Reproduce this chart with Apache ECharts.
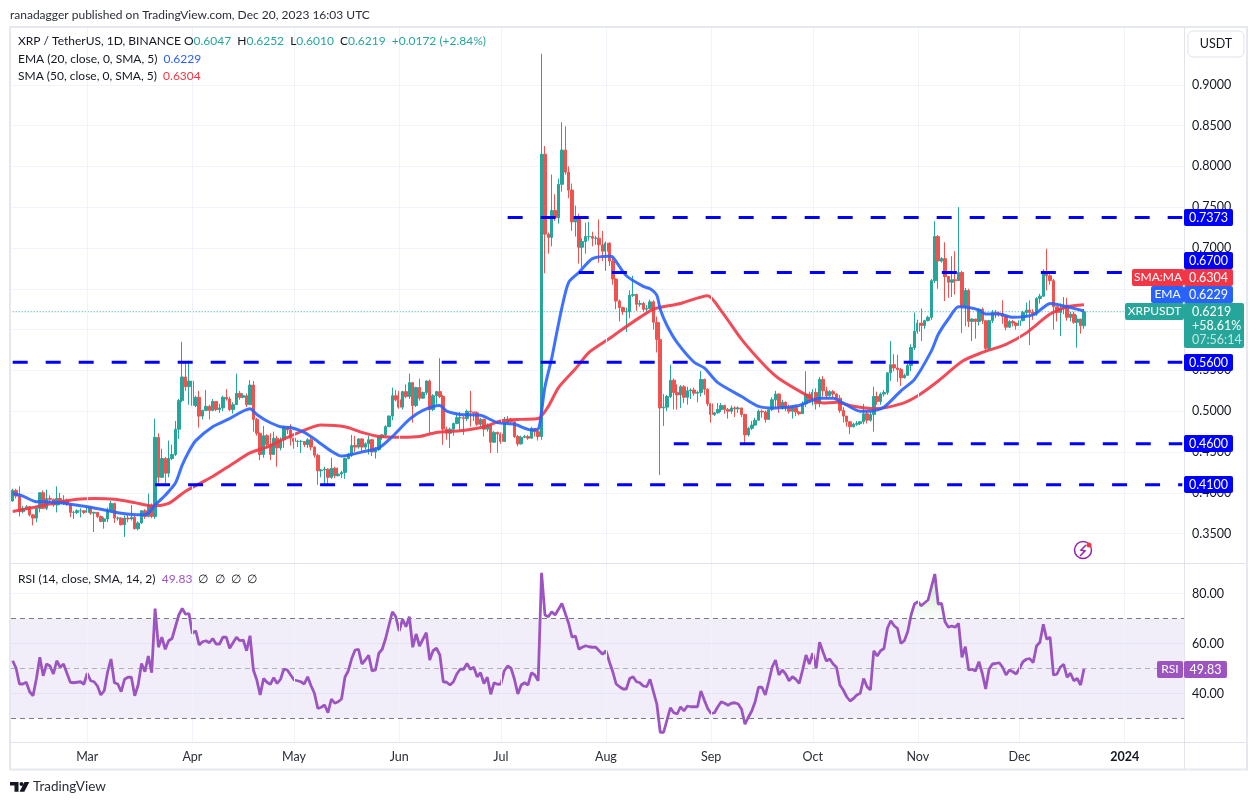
<!DOCTYPE html>
<html><head><meta charset="utf-8"><style>html,body{margin:0;padding:0;background:#fff}#c{width:1258px;height:805px}</style>
<script src="https://cdn.jsdelivr.net/npm/echarts@6/dist/echarts.min.js"></script></head>
<body><div id="c"></div><script>
const startDate='2023-02-07', dayCount=346, firstOpen=0.390;
const closes=[.403,.396,.377,.381,.383,.373,.369,.381,.400,.381,
.393,.392,.385,.393,.387,.391,.386,.376,.376,.378,
.378,.376,.382,.375,.376,.371,.365,.368,.379,.387,
.369,.369,.361,.369,.368,.370,.356,.363,.378,.371,
.385,.371,.468,.419,.442,.424,.442,.447,.478,.513,
.542,.530,.537,.507,.517,.494,.501,.506,.501,.512,
.502,.504,.517,.515,.502,.508,.522,.517,.519,.508,
.532,.490,.473,.447,.470,.459,.447,.467,.455,.465,
.480,.477,.467,.463,.463,.463,.459,.465,.456,.446,
.427,.428,.429,.419,.430,.421,.423,.425,.442,.447,
.458,.456,.466,.456,.460,.465,.450,.453,.468,.471,
.481,.494,.519,.514,.505,.524,.518,.535,.507,.529,
.516,.523,.537,.502,.519,.524,.518,.478,.473,.478,
.485,.492,.492,.491,.500,.499,.498,.484,.490,.478,
.483,.462,.474,.472,.463,.486,.490,.487,.469,.460,
.468,.469,.467,.479,.475,.469,.815,.717,.713,.746,
.737,.778,.820,.793,.771,.732,.738,.701,.708,.714,
.714,.712,.712,.704,.696,.706,.684,.662,.635,.627,
.622,.622,.642,.643,.631,.632,.625,.626,.634,.609,
.588,.504,.505,.518,.538,.523,.520,.530,.517,.525,
.526,.522,.523,.539,.527,.509,.496,.498,.502,.507,
.502,.500,.504,.503,.504,.496,.471,.479,.483,.489,
.500,.499,.490,.502,.514,.521,.505,.511,.505,.500,
.505,.499,.497,.509,.521,.513,.523,.509,.539,.525,
.519,.524,.521,.516,.501,.494,.487,.481,.484,.485,
.487,.497,.489,.496,.518,.512,.521,.523,.547,.557,
.553,.551,.541,.544,.556,.578,.598,.608,.605,.611,
.615,.660,.714,.684,.687,.665,.658,.661,.660,.670,
.628,.648,.610,.613,.610,.625,.611,.577,.611,.621,
.620,.619,.616,.603,.610,.608,.605,.611,.621,.624,
.621,.619,.638,.641,.671,.666,.660,.628,.621,.626,
.630,.615,.619,.609,.613,.6047,.6219];
const highs=[.405,.405,.408,.384,.385,.384,.374,.384,.401,.403,
.404,.397,.393,.408,.400,.397,.393,.387,.378,.380,
.381,.379,.384,.383,.377,.375,.372,.370,.382,.390,
.388,.371,.370,.372,.373,.385,.372,.365,.379,.380,
.399,.387,.491,.473,.454,.444,.464,.459,.488,.515,
.585,.561,.562,.538,.519,.525,.502,.526,.508,.515,
.508,.509,.519,.527,.518,.511,.546,.525,.522,.522,
.538,.537,.492,.474,.482,.472,.473,.475,.470,.468,
.482,.480,.484,.467,.465,.465,.461,.467,.468,.457,
.448,.429,.432,.430,.443,.432,.431,.427,.443,.449,
.471,.470,.467,.467,.462,.470,.466,.456,.470,.472,
.483,.495,.529,.526,.525,.525,.533,.546,.536,.530,
.540,.524,.538,.539,.521,.525,.565,.520,.481,.480,
.486,.498,.499,.494,.502,.525,.499,.500,.492,.491,
.485,.484,.476,.475,.474,.493,.494,.492,.488,.471,
.470,.471,.471,.481,.478,.476,.938,.825,.719,.790,
.766,.785,.854,.849,.800,.779,.752,.742,.712,.731,
.732,.720,.715,.735,.721,.708,.707,.688,.663,.637,
.628,.627,.648,.666,.644,.636,.634,.630,.637,.636,
.616,.609,.521,.520,.557,.540,.533,.532,.532,.530,
.528,.529,.525,.549,.540,.528,.510,.499,.510,.510,
.508,.504,.507,.506,.506,.504,.497,.481,.488,.492,
.502,.502,.501,.503,.517,.525,.522,.514,.512,.508,
.507,.508,.500,.512,.549,.524,.527,.528,.542,.543,
.530,.526,.526,.522,.520,.505,.493,.488,.486,.488,
.488,.509,.500,.499,.530,.524,.523,.526,.548,.586,
.570,.569,.553,.546,.559,.582,.621,.612,.626,.612,
.617,.662,.733,.716,.689,.707,.664,.690,.696,.750,
.672,.651,.650,.614,.613,.626,.627,.612,.612,.624,
.624,.622,.636,.618,.612,.612,.609,.612,.623,.633,
.636,.625,.640,.644,.674,.699,.668,.662,.628,.632,
.640,.639,.622,.622,.618,.610,.6252];
const lows=[.389,.393,.371,.375,.379,.371,.360,.364,.376,.380,
.379,.387,.383,.376,.385,.385,.384,.370,.368,.374,
.370,.374,.373,.373,.352,.369,.364,.356,.364,.377,
.363,.366,.360,.346,.364,.366,.355,.354,.362,.368,
.370,.369,.368,.412,.418,.412,.419,.440,.445,.466,
.511,.525,.508,.497,.505,.480,.490,.504,.490,.500,
.500,.498,.500,.513,.500,.497,.520,.514,.516,.505,
.520,.475,.470,.440,.443,.455,.440,.458,.432,.452,
.455,.472,.458,.454,.456,.449,.456,.455,.452,.443,
.410,.419,.410,.410,.417,.418,.420,.418,.417,.441,
.444,.450,.454,.449,.453,.447,.445,.442,.451,.465,
.469,.486,.489,.512,.503,.502,.516,.515,.486,.505,
.513,.515,.520,.473,.500,.508,.516,.459,.465,.455,
.470,.484,.476,.471,.488,.481,.488,.482,.481,.469,
.475,.449,.461,.449,.460,.469,.484,.485,.467,.457,
.459,.467,.465,.466,.469,.464,.465,.669,.693,.702,
.733,.730,.769,.790,.761,.721,.714,.681,.676,.693,
.709,.702,.704,.682,.684,.672,.678,.655,.625,.610,
.618,.597,.614,.640,.623,.628,.622,.622,.630,.600,
.572,.422,.482,.500,.516,.502,.502,.504,.510,.508,
.515,.519,.511,.518,.520,.506,.486,.494,.497,.499,
.497,.491,.497,.493,.498,.493,.459,.469,.477,.482,
.495,.492,.486,.497,.500,.504,.498,.502,.500,.497,
.491,.494,.495,.503,.505,.510,.507,.502,.505,.518,
.515,.518,.517,.515,.498,.486,.481,.472,.480,.482,
.483,.484,.485,.487,.475,.508,.508,.518,.520,.537,
.549,.536,.531,.540,.548,.549,.575,.595,.586,.601,
.610,.612,.657,.650,.682,.635,.639,.640,.643,.665,
.596,.604,.603,.586,.589,.605,.607,.573,.575,.608,
.614,.616,.607,.599,.602,.604,.600,.603,.610,.616,
.581,.612,.617,.632,.640,.648,.655,.600,.610,.592,
.619,.611,.610,.607,.578,.595,.6010];
const ema20=[[0,.3995],[3,.396],[7,.389],[9,.389],[13,.388],[17,.386],[22,.383],[27,.379],[32,.375],[38,.373],[40,.375],[42,.385],[45,.397],[48,.412],[50,.434],[52,.451],[54,.464],[59,.481],[64,.491],[70,.503],[72,.496],[75,.488],[79,.481],[82,.480],[86,.474],[90,.463],[94,.451],[97,.445],[100,.447],[104,.451],[108,.455],[112,.469],[117,.490],[121,.501],[126,.507],[128,.500],[132,.496],[138,.495],[143,.486],[148,.484],[153,.477],[155,.478],[156,.500],[157,.530],[159,.565],[160,.586],[162,.627],[164,.658],[167,.670],[171,.687],[176,.690],[177,.689],[181,.666],[186,.653],[188,.650],[190,.642],[191,.625],[193,.605],[196,.584],[201,.560],[204,.553],[208,.535],[215,.518],[220,.506],[225,.504],[232,.507],[238,.516],[242,.516],[245,.510],[250,.500],[253,.500],[257,.505],[262,.525],[266,.539],[271,.574],[273,.594],[276,.613],[279,.628],[282,.627],[285,.624],[287,.619],[291,.619],[295,.615],[301,.618],[304,.627],[306,.632],[309,.630],[312,.627],[316,.6229]];
const sma50=[[0,.377],[6,.382],[13,.388],[19,.392],[24,.393],[30,.392],[36,.388],[41,.384],[46,.387],[51,.402],[59,.420],[65,.436],[70,.449],[75,.456],[79,.464],[85,.475],[91,.483],[98,.481],[103,.474],[108,.469],[115,.468],[120,.469],[125,.474],[132,.476],[139,.481],[144,.488],[150,.490],[155,.491],[158,.506],[161,.529],[166,.552],[170,.572],[176,.589],[179,.598],[185,.615],[189,.625],[197,.632],[205,.6415],[209,.623],[215,.588],[222,.555],[226,.540],[234,.520],[239,.510],[243,.511],[248,.506],[254,.503],[262,.509],[267,.519],[273,.537],[280,.561],[286,.572],[293,.582],[299,.596],[306,.619],[311,.628],[316,.6304]];
const rsi=[53.1,50.1,43.8,43.8,44.5,40.7,39.1,46,54.5,47.1,
51.8,51,47.8,53.1,50.5,51.8,48.1,44.5,44.3,44.5,
44.7,43.7,48.1,45.1,44.7,43,39.4,41.1,48.7,53.8,
44.3,43.8,40.7,45.7,46.5,46.5,39.1,43.4,52,48.7,
55,48.3,74,58.5,62.5,57.7,61.1,62,66.7,71.4,
74,71.7,72,64,65.1,59.4,60.7,61.1,60.3,62,
59.8,59.8,62.5,62.5,58.1,60.3,62.5,61.1,61.4,57.1,
63.1,49.4,45.4,39.4,46,44.5,43.7,46.3,44,45.7,
49.8,49.4,47.4,45.4,45.1,44.7,43.8,46.7,43.1,40.1,
34,34.5,35.4,32.3,37.8,36.1,36.7,37.8,46.5,49.1,
54,57.4,57.7,51.8,53.4,55.3,49,49.4,56.1,57.7,
62,67.4,72.7,70.7,65,69.7,66.7,70.7,58.5,63.8,
59,61.7,64.3,53.4,57.1,58.1,55.4,44.7,44.5,43.4,
44.7,47.8,49.7,49.7,52,49.7,50.5,46.7,48.3,44,
46.5,39.7,44.3,43.7,43.8,49.1,51,50.1,45.7,39.8,
43.4,44.3,43.4,48.3,47.4,45.1,88.3,71.4,70.7,72.7,
71.4,73.7,76,72,68,62.5,63,57.7,58.5,59.1,
58.7,58.5,58.5,57.1,55.7,57.1,52.7,48.7,43.8,42.7,
41.8,41.8,46,46.7,44.7,44.3,43,42.7,45.7,40.7,
35.8,24.5,24.5,29.4,34.3,32.3,31.8,34.7,33,35,
34.7,34.7,34.7,41,37.4,34,32,32.3,34.7,36.7,
36.1,35.3,36.1,36.3,35.8,33.7,27.7,30.5,33,36.7,
42.5,42.5,39.4,44.7,50.5,53.4,47.4,49.4,47.8,45.1,
46.7,45.7,44,49.4,55.4,51.8,56.1,50.1,60.5,56.7,
53,53.8,51.8,50.5,43.4,41.4,38.7,37,38,39.4,
40.1,46,42.7,41.4,57.1,55,57.1,58,66,69.1,
67.1,66,60,61.1,64.7,71.4,75.8,76.7,75.1,76.3,
77.4,82.7,87.8,75.8,76,68.7,66.5,67,66.5,68,
54.5,58.7,49.4,49.7,49,52.7,48,41.8,49.7,51.8,
52,52.3,50.5,47.4,49.4,48.7,47.8,50.1,52.7,53.7,
54,52.3,59,60.5,67.7,61.7,62.5,47.4,47.7,50.5,
51.7,46.5,48.1,45.1,46,43.4,49.83];
const levelValues=[.7373,.67,.56,.46,.41];
const levelStarts=[146,167,0,195,42];
const lastPrice=.6219;
const priceTicks=[.35,.40,.45,.50,.55,.60,.65,.70,.75,.80,.85,.90];
const rsiTicks=[40,60,80];
const monthLabels={'2023-03-01':'Mar','2023-04-01':'Apr','2023-05-01':'May','2023-06-01':'Jun','2023-07-01':'Jul','2023-08-01':'Aug','2023-09-01':'Sep','2023-10-01':'Oct','2023-11-01':'Nov','2023-12-01':'Dec','2024-01-01':'2024'};

const dates=[];
for(let i=0;i<dayCount;i++){dates.push(new Date(Date.parse(startDate+'T00:00:00Z')+i*864e5).toISOString().slice(0,10));}
const opens=[firstOpen].concat(closes.slice(0,-1));
const candles=closes.map((c,i)=>[opens[i],c,lows[i],highs[i]]);

const FONT='Lato,sans-serif', INK='#131722', GRID='#f0f3fa', FRAME='#e6e8f0';
const UP='#26a69a', DOWN='#ef5350', BLUE='#2962ff', RED='#f23645', PURPLE='#9c55c0', LEVEL='#0000ff';
const isMonth=(idx,val)=>monthLabels[val]!==undefined;
const monthLines=Object.keys(monthLabels).map(d=>({xAxis:d}));

const chart=echarts.init(document.getElementById('c'),null,{renderer:'canvas',width:1258,height:805});

const sz='12px ', vz='12.5px ';
function tag(x,y,w,h,fill,text,small){
  const els=[{type:'rect',z:50,shape:{x,y,width:w,height:h,r:2},style:{fill}}];
  if(text)els.push({type:'text',z:51,style:{x:x+w/2,y:y+h/2,text,fill:'#fff',font:(small?sz:vz)+FONT,align:'center',verticalAlign:'middle'}});
  return els;
}
const graphicEls=[
 {type:'rect',z:40,shape:{x:10,y:27,width:1237,height:742.5},style:{fill:'none',stroke:FRAME,lineWidth:2}},
 {type:'line',z:40,shape:{x1:1184.5,y1:27,x2:1184.5,y2:769},style:{stroke:'#e0e3eb',lineWidth:1}},
 {type:'line',z:40,shape:{x1:10,y1:563.5,x2:1247,y2:563.5},style:{stroke:'#e0e3eb',lineWidth:1}},
 {type:'line',z:40,shape:{x1:10,y1:742.5,x2:1247,y2:742.5},style:{stroke:'#e0e3eb',lineWidth:1}},
 {type:'text',z:60,style:{x:10,y:15,text:'ranadagger published on TradingView.com, Dec 20, 2023 16:03 UTC',fill:'#2a2e39',font:sz+FONT,verticalAlign:'middle'}},
 {type:'text',z:60,style:{x:18,y:41.5,verticalAlign:'middle',
   text:'{k|XRP / TetherUS, 1D, BINANCE} {k|O}{g|0.6047} {k|H}{g|0.6252} {k|L}{g|0.6010} {k|C}{g|0.6219} {g|+0.0172 (+2.84%)}',
   font:sz+FONT,rich:{k:{fill:INK,font:sz+FONT},g:{fill:UP,font:sz+FONT,padding:[0,3,0,0]}}}},
 {type:'text',z:60,style:{x:18,y:59,verticalAlign:'middle',text:'{k|EMA (20, close, 0, SMA, 5)}  {b|0.6229}',font:sz+FONT,rich:{k:{fill:INK,font:sz+FONT},b:{fill:BLUE,font:sz+FONT}}}},
 {type:'text',z:60,style:{x:18,y:76,verticalAlign:'middle',text:'{k|SMA (50, close, 0, SMA, 5)}  {r|0.6304}',font:sz+FONT,rich:{k:{fill:INK,font:sz+FONT},r:{fill:RED,font:sz+FONT}}}},
 {type:'text',z:60,style:{x:18,y:579,verticalAlign:'middle',text:'{k|RSI (14, close, SMA, 14, 2)}  {p|49.83}  {k|∅  ∅  ∅  ∅}',font:sz+FONT,rich:{k:{fill:INK,font:sz+FONT},p:{fill:PURPLE,font:sz+FONT}}}},
 {type:'rect',z:45,shape:{x:1188,y:31,width:56,height:26,r:5},style:{fill:'#fff',stroke:'#e0e3eb',lineWidth:1}},
 {type:'text',z:46,style:{x:1216,y:44,text:'USDT',fill:INK,font:vz+FONT,align:'center',verticalAlign:'middle'}},
 ...tag(1184,209,49,17,LEVEL,'0.7373'),
 ...tag(1184,252,49,17,LEVEL,'0.6700'),
 ...tag(1184,269,49,17,RED,'0.6304'),
 ...tag(1132,269,52,17,RED,'SMA:MA',true),
 ...tag(1184,286,49,17,BLUE,'0.6229'),
 ...tag(1151,286,33,17,BLUE,'EMA',true),
 ...tag(1125,303,59,17,UP,'XRPUSDT',true),
 ...tag(1184,303,60,45,UP,''),
 {type:'text',z:51,style:{x:1192,y:311.5,text:'0.6219',fill:'#fff',font:vz+FONT,verticalAlign:'middle'}},
 {type:'text',z:51,style:{x:1192,y:325.5,text:'+58.61%',fill:'#fff',font:vz+FONT,verticalAlign:'middle'}},
 {type:'text',z:51,style:{x:1192,y:339.5,text:'07:56:14',fill:'#c4e6e2',font:vz+FONT,verticalAlign:'middle'}},
 ...tag(1184,354,49,17,LEVEL,'0.5600'),
 ...tag(1184,435,49,17,LEVEL,'0.4600'),
 ...tag(1184,476,49,17,LEVEL,'0.4100'),
 ...tag(1157,661,26,17,PURPLE,'RSI',true),
 ...tag(1184,661,43,17,PURPLE,'49.83'),
 {type:'circle',z:30,shape:{cx:1083,cy:550,r:8.5},style:{fill:'#fff',stroke:'#8e24aa',lineWidth:1.5}},
 {type:'polyline',z:31,shape:{points:[[1086,545],[1081,550],[1085,551],[1080,556]]},style:{fill:'none',stroke:'#8e24aa',lineWidth:1.5}},
 {type:'circle',z:32,shape:{cx:1089,cy:545,r:2.5},style:{fill:'#f23645'}},
 {type:'polygon',z:60,shape:{points:[[10,782],[18.5,782],[18.5,791.7],[14.5,791.7],[14.5,785.5],[10,785.5]]},style:{fill:INK}},
 {type:'circle',z:60,shape:{cx:21.5,cy:784,r:2},style:{fill:INK}},
 {type:'polygon',z:60,shape:{points:[[24.5,782],[29.3,782],[24.3,791.7],[19.5,791.7]]},style:{fill:INK}},
 {type:'text',z:60,style:{x:33,y:787,text:'TradingView',fill:'#2a2e39',font:'13.5px '+FONT,verticalAlign:'middle'}}
];

const levelSeries=levelValues.map((v,k)=>({type:'line',name:'level'+v,xAxisIndex:0,yAxisIndex:0,data:[[levelStarts[k],v],[dayCount-1,v]],symbol:'none',silent:true,z:6,lineStyle:{color:LEVEL,width:3,type:[15,18]}}));
const gridLineMark={silent:true,symbol:'none',label:{show:false},lineStyle:{color:GRID,width:1,type:'solid'},data:monthLines};

chart.setOption({
 animation:false,backgroundColor:'#fff',tooltip:{show:false},
 grid:[{left:11,top:28,width:1173,height:535},{left:11,top:564,width:1173,height:178}],
 graphic:{elements:graphicEls},
 xAxis:[
  {type:'category',gridIndex:0,data:dates,axisLine:{show:false},axisTick:{show:false},axisLabel:{show:false},splitLine:{show:false}},
  {type:'category',gridIndex:1,data:dates,axisLine:{show:false},axisTick:{show:false},splitLine:{show:false},
   axisLabel:{interval:isMonth,margin:8,color:'#2a2e39',fontFamily:FONT,fontSize:12.5,showMinLabel:true,showMaxLabel:true,hideOverlap:false,
     formatter:v=>monthLabels[v]==='2024'?'{y|2024}':(monthLabels[v]||''),rich:{y:{fontWeight:'bold',fontFamily:FONT,fontSize:12.5,color:INK}}}}
 ],
 yAxis:[
  {type:'value',gridIndex:0,position:'right',min:.314,max:.9696,axisLine:{show:false},axisTick:{show:false,customValues:priceTicks},
   axisLabel:{customValues:priceTicks,formatter:v=>v.toFixed(4),color:INK,fontFamily:FONT,fontSize:12.5,margin:8,padding:[2,0,0,0]},splitLine:{show:true,lineStyle:{color:GRID,width:1}}},
  {type:'value',gridIndex:1,position:'right',min:20.6,max:91.8,axisLine:{show:false},axisTick:{show:false,customValues:rsiTicks},
   axisLabel:{customValues:rsiTicks,formatter:v=>v.toFixed(2),color:INK,fontFamily:FONT,fontSize:12.5,margin:8,padding:[2,0,0,0]},splitLine:{show:true,lineStyle:{color:GRID,width:1}}}
 ],
 series:[
  {type:'line',name:'last',xAxisIndex:0,yAxisIndex:0,data:[[0,lastPrice],[dayCount-1,lastPrice]],symbol:'none',silent:true,z:1,lineStyle:{color:UP,width:1,type:[1,2]},markLine:gridLineMark},
  {type:'candlestick',name:'XRPUSDT',xAxisIndex:0,yAxisIndex:0,data:candles,barWidth:3,clip:false,z:3,itemStyle:{color:UP,color0:DOWN,borderColor:UP,borderColor0:DOWN,borderColorDoji:UP,borderWidth:1}},
  {type:'line',name:'SMA',xAxisIndex:0,yAxisIndex:0,data:sma50,symbol:'none',smooth:.25,z:4,lineStyle:{color:RED,width:3,opacity:.9}},
  {type:'line',name:'EMA',xAxisIndex:0,yAxisIndex:0,data:ema20,symbol:'none',smooth:.25,z:5,lineStyle:{color:BLUE,width:3,opacity:.9}},
  ...levelSeries,
  {type:'line',name:'overbought',xAxisIndex:1,yAxisIndex:1,data:rsi.slice(265,275).map((v,i)=>[265+i,v]),symbol:'none',silent:true,z:2,lineStyle:{width:0},markLine:gridLineMark,
   areaStyle:{origin:70,color:new echarts.graphic.LinearGradient(0,0,0,1,[{offset:0,color:'rgba(76,175,80,.45)'},{offset:1,color:'rgba(76,175,80,.04)'}])}},
  {type:'line',name:'RSI',xAxisIndex:1,yAxisIndex:1,data:rsi,symbol:'none',z:4,lineStyle:{color:PURPLE,width:2.8},
   markArea:{silent:true,itemStyle:{color:'rgba(126,87,194,.1)'},data:[[{yAxis:70},{yAxis:30}]]},
   markLine:{silent:true,symbol:'none',label:{show:false},data:[
     {yAxis:70,lineStyle:{color:'#787b86',width:1,type:[5,4]}},
     {yAxis:50,lineStyle:{color:'rgba(120,123,134,.55)',width:1,type:[5,4]}},
     {yAxis:30,lineStyle:{color:'#787b86',width:1,type:[5,4]}}]}}
 ]
});
</script></body></html>
